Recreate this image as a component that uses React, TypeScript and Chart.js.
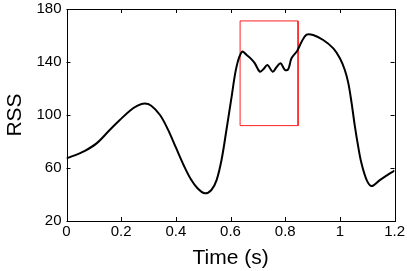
import React, { useEffect, useRef } from "react";
import { Chart, registerables } from "chart.js";

Chart.register(...registerables);

const timeS = [0, 0.03, 0.061, 0.11, 0.158, 0.195, 0.232, 0.26, 0.286, 0.31, 0.342, 0.37, 0.4, 0.43, 0.455, 0.48, 0.506, 0.53, 0.549, 0.567, 0.585, 0.604, 0.622, 0.642, 0.659, 0.677, 0.689, 0.707, 0.72, 0.735, 0.754, 0.768, 0.783, 0.799, 0.811, 0.823, 0.844, 0.86, 0.878, 0.902, 0.939, 0.976, 1.0, 1.018, 1.031, 1.043, 1.055, 1.067, 1.079, 1.098, 1.116, 1.146, 1.183, 1.2];
const rss = [67.3, 69.5, 72.3, 78.6, 88.7, 96.2, 103.2, 107, 108.6, 107, 100, 89.5, 75.5, 61.5, 51.5, 44.5, 40.9, 43.4, 50.9, 66, 88.7, 113.8, 136.5, 147.8, 145.3, 142, 139, 132.7, 134.5, 137.7, 132.7, 136, 139, 134, 134.5, 142.8, 148.5, 155.3, 160.6, 160.4, 156.6, 150.3, 142.8, 134, 123.9, 108.8, 91.2, 76.1, 63.5, 50.9, 46.4, 50.9, 56, 58];
const boxX = [0.635, 0.847, 0.847, 0.635, 0.635];
const boxY = [171, 171, 92, 92, 171];
const xTicks = [0, 0.2, 0.4, 0.6, 0.8, 1, 1.2];
const yTicks = [20, 60, 100, 140, 180];

const framePlugin = {
  id: "frameTicks",
  afterDraw(chart: any) {
    const { ctx, chartArea: a, scales } = chart;
    ctx.save();
    ctx.strokeStyle = "#000";
    ctx.lineWidth = 1;
    ctx.strokeRect(Math.round(a.left) + 0.5, Math.round(a.top) + 0.5, Math.round(a.right - a.left), Math.round(a.bottom - a.top));
    const L = 4;
    ctx.beginPath();
    xTicks.forEach((v) => {
      const p = Math.round(scales.x.getPixelForValue(v)) + 0.5;
      ctx.moveTo(p, a.bottom);
      ctx.lineTo(p, a.bottom - L);
      ctx.moveTo(p, a.top);
      ctx.lineTo(p, a.top + L);
    });
    yTicks.forEach((v) => {
      const p = Math.round(scales.y.getPixelForValue(v)) + 0.5;
      ctx.moveTo(a.left, p);
      ctx.lineTo(a.left + L, p);
      ctx.moveTo(a.right, p);
      ctx.lineTo(a.right - L, p);
    });
    ctx.stroke();
    ctx.restore();
  },
};

export default function App() {
  const ref = useRef<HTMLCanvasElement>(null);
  useEffect(() => {
    if (!ref.current) return;
    const font = "'Liberation Sans', Arial, Helvetica, sans-serif";
    const chart = new Chart(ref.current, {
      type: "line",
      data: {
        datasets: [
          {
            data: timeS.map((t, i) => ({ x: t, y: rss[i] })),
            borderColor: "#000",
            borderWidth: 2,
            pointRadius: 0,
            tension: 0.35,
            fill: false,
          },
          {
            data: boxX.map((t, i) => ({ x: t, y: boxY[i] })),
            borderColor: "#ff2020",
            borderWidth: 1,
            pointRadius: 0,
            tension: 0,
            fill: false,
          },
        ],
      },
      options: {
        animation: false,
        responsive: false,
        maintainAspectRatio: false,
        layout: { padding: { top: 9, right: 12, left: 0, bottom: 0 } },
        plugins: { legend: { display: false }, tooltip: { enabled: false } },
        scales: {
          x: {
            type: "linear",
            min: 0,
            max: 1.2,
            afterBuildTicks: (s: any) => { s.ticks = xTicks.map((v) => ({ value: v })); },
            afterFit: (s: any) => { s.height = 50; },
            grid: { display: false, drawTicks: false },
            border: { display: false },
            ticks: { color: "#000", font: { family: font, size: 15 }, padding: 2, maxRotation: 0, callback: (v: any) => String(v) },
            title: { display: true, text: "Time (s)", color: "#000", font: { family: font, size: 21 }, padding: { top: 0, bottom: 0 } },
          },
          y: {
            type: "linear",
            min: 20,
            max: 180,
            afterBuildTicks: (s: any) => { s.ticks = yTicks.map((v) => ({ value: v })); },
            afterFit: (s: any) => { s.width = 66.5; s.paddingTop = 0; s.paddingBottom = 0; },
            grid: { display: false, drawTicks: false },
            border: { display: false },
            ticks: { color: "#000", font: { family: font, size: 15 }, padding: 5, callback: (v: any) => String(v) },
            title: { display: true, text: "RSS", color: "#000", font: { family: font, size: 21 }, padding: { top: 3, bottom: 0 } },
          },
        },
      },
      plugins: [framePlugin],
    } as any);
    return () => chart.destroy();
  }, []);
  return (
    <div style={{ position: "fixed", left: 0, top: 0, width: 407, height: 271, background: "#fff" }}>
      <canvas ref={ref} width={407} height={271} style={{ width: 407, height: 271 }} />
    </div>
  );
}
